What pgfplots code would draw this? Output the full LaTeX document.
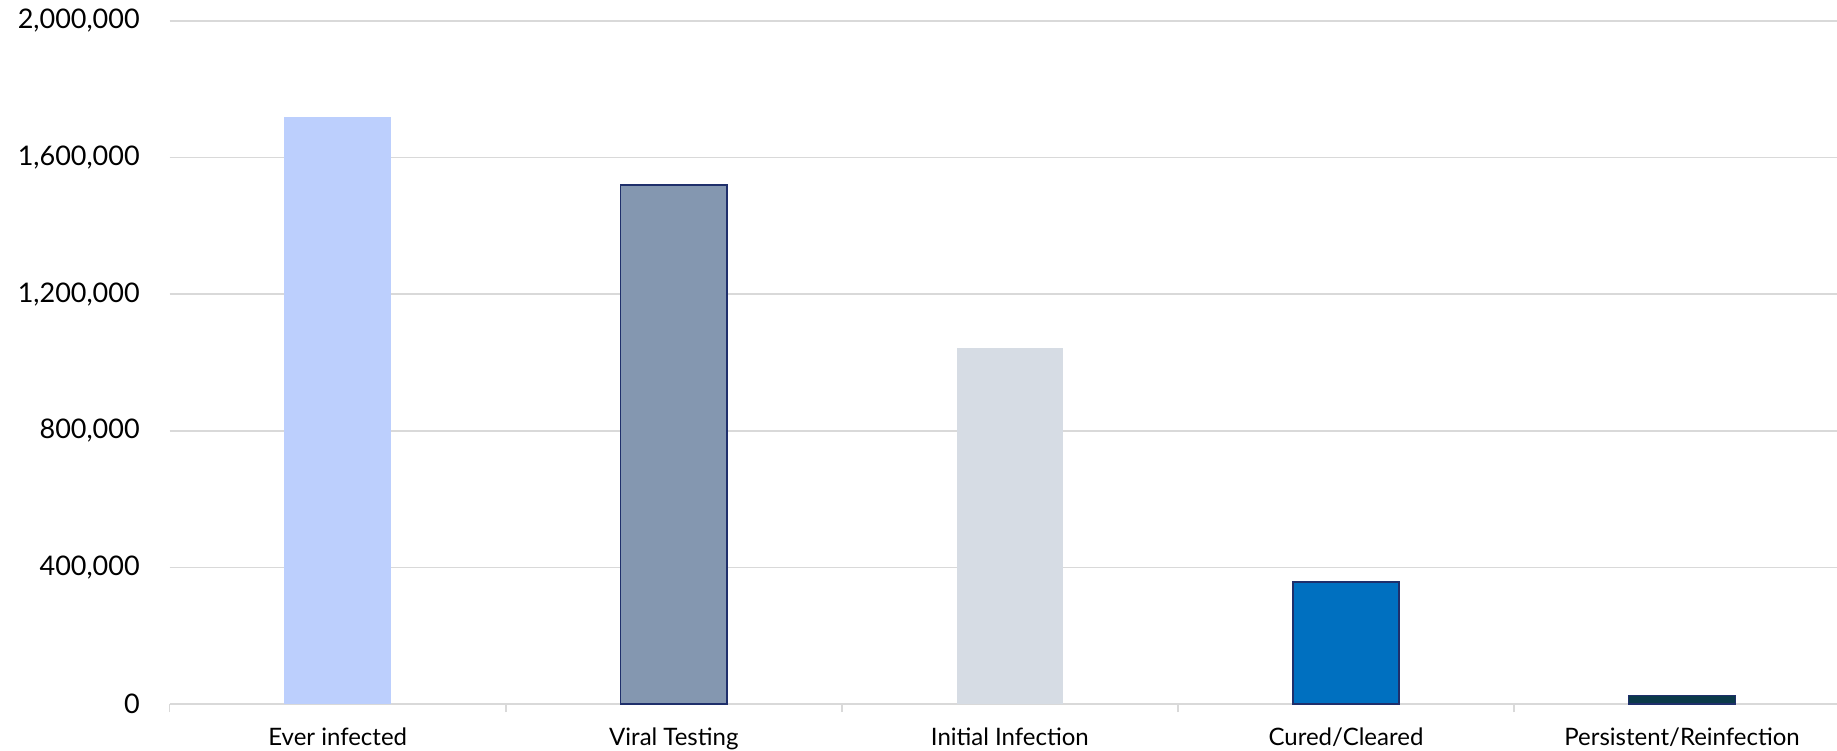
\documentclass[border=0pt]{standalone}
\usepackage{pgfplots}
\pgfplotsset{compat=1.18}
\usepackage{fontspec}
\setmainfont{Lato}
\definecolor{gridgray}{HTML}{D9D9D9}
\definecolor{cA}{HTML}{BCCFFD}
\definecolor{cB}{HTML}{8497B0}
\definecolor{cC}{HTML}{D6DCE4}
\definecolor{cD}{HTML}{0070C0}
\definecolor{cE}{HTML}{0B3A4A}
\definecolor{navy}{HTML}{1F2F6B}
\begin{document}
\begin{tikzpicture}
\path[use as bounding box] (-84.85bp,-23.5bp) rectangle (833.65bp,352bp);
\begin{axis}[
  at={(0,0)}, anchor=south west,
  scale only axis, width=833.65bp, height=341.5bp,
  xmin=-0.5, xmax=4.461, ymin=0, ymax=2000000,
  ybar,
  axis line style={draw=none},
  ytick={0,400000,800000,1200000,1600000,2000000},
  ymajorgrids, grid style={draw=gridgray, line width=0.8bp},
  scaled y ticks=false,
  /pgf/number format/fixed,
  /pgf/number format/1000 sep={,},
  /pgf/number format/assume math mode=true,
  major tick length=0pt,
  xtick pos=bottom,
  tick label style={text=black},
  yticklabel style={inner sep=0pt, xshift=-14.8bp, font=\fontsize{13.5bp}{16bp}\selectfont},
  xtick={0,1,2,3,4},
  xticklabels={Ever infected, Viral Testing, Initial Infection, Cured/Cleared, Persistent/Reinfection},
  xticklabel style={inner sep=0pt, yshift=-11.5bp, font=\fontsize{12bp}{14bp}\selectfont},
  extra x ticks={-0.5,0.5,1.5,2.5,3.5},
  extra x tick labels={},
  extra x tick style={major tick length=4bp, tick align=outside, tick style={draw=gridgray, line width=0.8bp}, grid=none},
  clip=false,
]
\addplot[ybar, bar shift=0pt, bar width=53.25bp, fill=cA, draw=none] coordinates {(0,1720000)};
\addplot[ybar, bar shift=0pt, bar width=53.25bp, fill=cB, draw=navy, line width=0.9bp] coordinates {(1,1520000)};
\addplot[ybar, bar shift=0pt, bar width=53.25bp, fill=cC, draw=none] coordinates {(2,1043000)};
\addplot[ybar, bar shift=0pt, bar width=53.25bp, fill=cD, draw=navy, line width=0.9bp] coordinates {(3,357000)};
\addplot[ybar, bar shift=0pt, bar width=53.25bp, fill=cE, draw=navy, line width=0.6bp] coordinates {(4,24000)};
\end{axis}
\end{tikzpicture}
\end{document}
